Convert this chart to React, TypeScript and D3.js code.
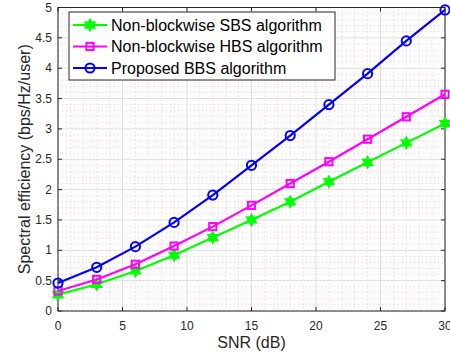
import React from "react";
import * as d3 from "d3";

const snr = [0, 3, 6, 9, 12, 15, 18, 21, 24, 27, 30];
const sbs = [0.27, 0.44, 0.66, 0.92, 1.21, 1.5, 1.8, 2.13, 2.45, 2.77, 3.09];
const hbs = [0.33, 0.52, 0.77, 1.07, 1.39, 1.74, 2.1, 2.46, 2.83, 3.2, 3.57];
const bbs = [0.46, 0.72, 1.06, 1.46, 1.91, 2.4, 2.89, 3.4, 3.91, 4.45, 4.96];
const xTicks = [0, 5, 10, 15, 20, 25, 30];
const yTicks = [0, 0.5, 1, 1.5, 2, 2.5, 3, 3.5, 4, 4.5, 5];
const seriesNames = ["Non-blockwise SBS algorithm", "Non-blockwise HBS algorithm", "Proposed BBS algorithm"];
const seriesColors = ["#00ff00", "#ff00ff", "#0000ff"];
const seriesMarkers = ["star", "square", "circle"];

const W = 450, H = 356;
const L = 58, R = 445, T = 7.5, B = 311;
const FONT = "'Liberation Sans', Arial, Helvetica, sans-serif";

function hexagram(cx: number, cy: number, r: number) {
  const pts: string[] = [];
  const ri = r * 0.55;
  for (let i = 0; i < 12; i++) {
    const a = (Math.PI / 6) * i - Math.PI / 2;
    const rr = i % 2 === 0 ? r : ri;
    pts.push(`${cx + rr * Math.cos(a)},${cy + rr * Math.sin(a)}`);
  }
  return pts.join(" ");
}

function Marker({ kind, x, y, color }: { kind: string; x: number; y: number; color: string }) {
  if (kind === "star")
    return <polygon points={hexagram(x, y, 6)} fill={color} stroke={color} strokeWidth={1.2} />;
  if (kind === "square")
    return <rect x={x - 3.6} y={y - 3.6} width={7.2} height={7.2} fill="none" stroke={color} strokeWidth={2} />;
  return <circle cx={x} cy={y} r={4.6} fill="none" stroke={color} strokeWidth={2} />;
}

export default function App() {
  const x = d3.scaleLinear().domain([0, 30]).range([L, R]);
  const y = d3.scaleLinear().domain([0, 5]).range([B, T]);
  const data = [sbs, hbs, bbs];
  const line = d3
    .line<[number, number]>()
    .x((d) => x(d[0]))
    .y((d) => y(d[1]));
  const xMinor = d3.range(0, 31, 1).filter((v) => v % 5 !== 0);
  const yMinor = d3.range(0, 51, 1).map((v) => v / 10).filter((v, i) => i % 5 !== 0);

  const legX = 69, legY = 12, legW = 266, legH = 68;
  const rowY = [25, 46.5, 68];

  return (
    <svg width={W} height={H} style={{ position: "absolute", left: 0, top: 0, background: "#fff" }}>
      <rect x={0} y={0} width={W} height={H} fill="#fff" />
      {/* minor grid */}
      {xMinor.map((v) => (
        <line key={"xm" + v} x1={x(v)} x2={x(v)} y1={T} y2={B} stroke="#f4a6d8" strokeWidth={1} strokeDasharray="1,3" opacity={0.7} />
      ))}
      {yMinor.map((v) => (
        <line key={"ym" + v} x1={L} x2={R} y1={y(v)} y2={y(v)} stroke="#f4a6d8" strokeWidth={1} strokeDasharray="1,3" opacity={0.7} />
      ))}
      {/* major grid */}
      {xTicks.map((v) => (
        <line key={"xg" + v} x1={x(v)} x2={x(v)} y1={T} y2={B} stroke="#dedede" strokeWidth={1} />
      ))}
      {yTicks.map((v) => (
        <line key={"yg" + v} x1={L} x2={R} y1={y(v)} y2={y(v)} stroke="#dedede" strokeWidth={1} />
      ))}
      {/* box */}
      <rect x={L} y={T} width={R - L} height={B - T} fill="none" stroke="#262626" strokeWidth={1} />
      {/* ticks */}
      {xTicks.map((v) => (
        <g key={"xt" + v}>
          <line x1={x(v)} x2={x(v)} y1={B} y2={B - 4} stroke="#262626" />
          <line x1={x(v)} x2={x(v)} y1={T} y2={T + 4} stroke="#262626" />
          <text x={x(v)} y={B + 19} textAnchor="middle" fontSize={12} fill="#262626" fontFamily={FONT}>
            {v}
          </text>
        </g>
      ))}
      {yTicks.map((v) => (
        <g key={"yt" + v}>
          <line x1={L} x2={L + 4} y1={y(v)} y2={y(v)} stroke="#262626" />
          <line x1={R} x2={R - 4} y1={y(v)} y2={y(v)} stroke="#262626" />
          <text x={L - 6} y={y(v) + 4} textAnchor="end" fontSize={12} fill="#262626" fontFamily={FONT}>
            {v}
          </text>
        </g>
      ))}
      {/* series */}
      {data.map((ser, si) => (
        <g key={"s" + si}>
          <path
            d={line(snr.map((s, i) => [s, ser[i]] as [number, number])) || ""}
            fill="none"
            stroke={seriesColors[si]}
            strokeWidth={2.2}
          />
          {snr.map((s, i) => (
            <Marker key={i} kind={seriesMarkers[si]} x={x(s)} y={y(ser[i])} color={seriesColors[si]} />
          ))}
        </g>
      ))}
      {/* axis labels */}
      <text x={(L + R) / 2} y={348} textAnchor="middle" fontSize={16} fill="#262626" fontFamily={FONT}>
        SNR (dB)
      </text>
      <text
        transform={`translate(30, ${(T + B) / 2}) rotate(-90)`}
        textAnchor="middle"
        fontSize={16}
        fill="#262626"
        fontFamily={FONT}
      >
        Spectral efficiency (bps/Hz/user)
      </text>
      {/* legend */}
      <rect x={legX} y={legY} width={legW} height={legH} fill="#fff" stroke="#262626" strokeWidth={1} />
      {seriesNames.map((n, i) => (
        <g key={"l" + i}>
          <line x1={73} x2={107} y1={rowY[i]} y2={rowY[i]} stroke={seriesColors[i]} strokeWidth={2.2} />
          <Marker kind={seriesMarkers[i]} x={90} y={rowY[i]} color={seriesColors[i]} />
          <text x={111} y={rowY[i] + 5.5} fontSize={16} fill="#000" fontFamily={FONT}>
            {n}
          </text>
        </g>
      ))}
    </svg>
  );
}
